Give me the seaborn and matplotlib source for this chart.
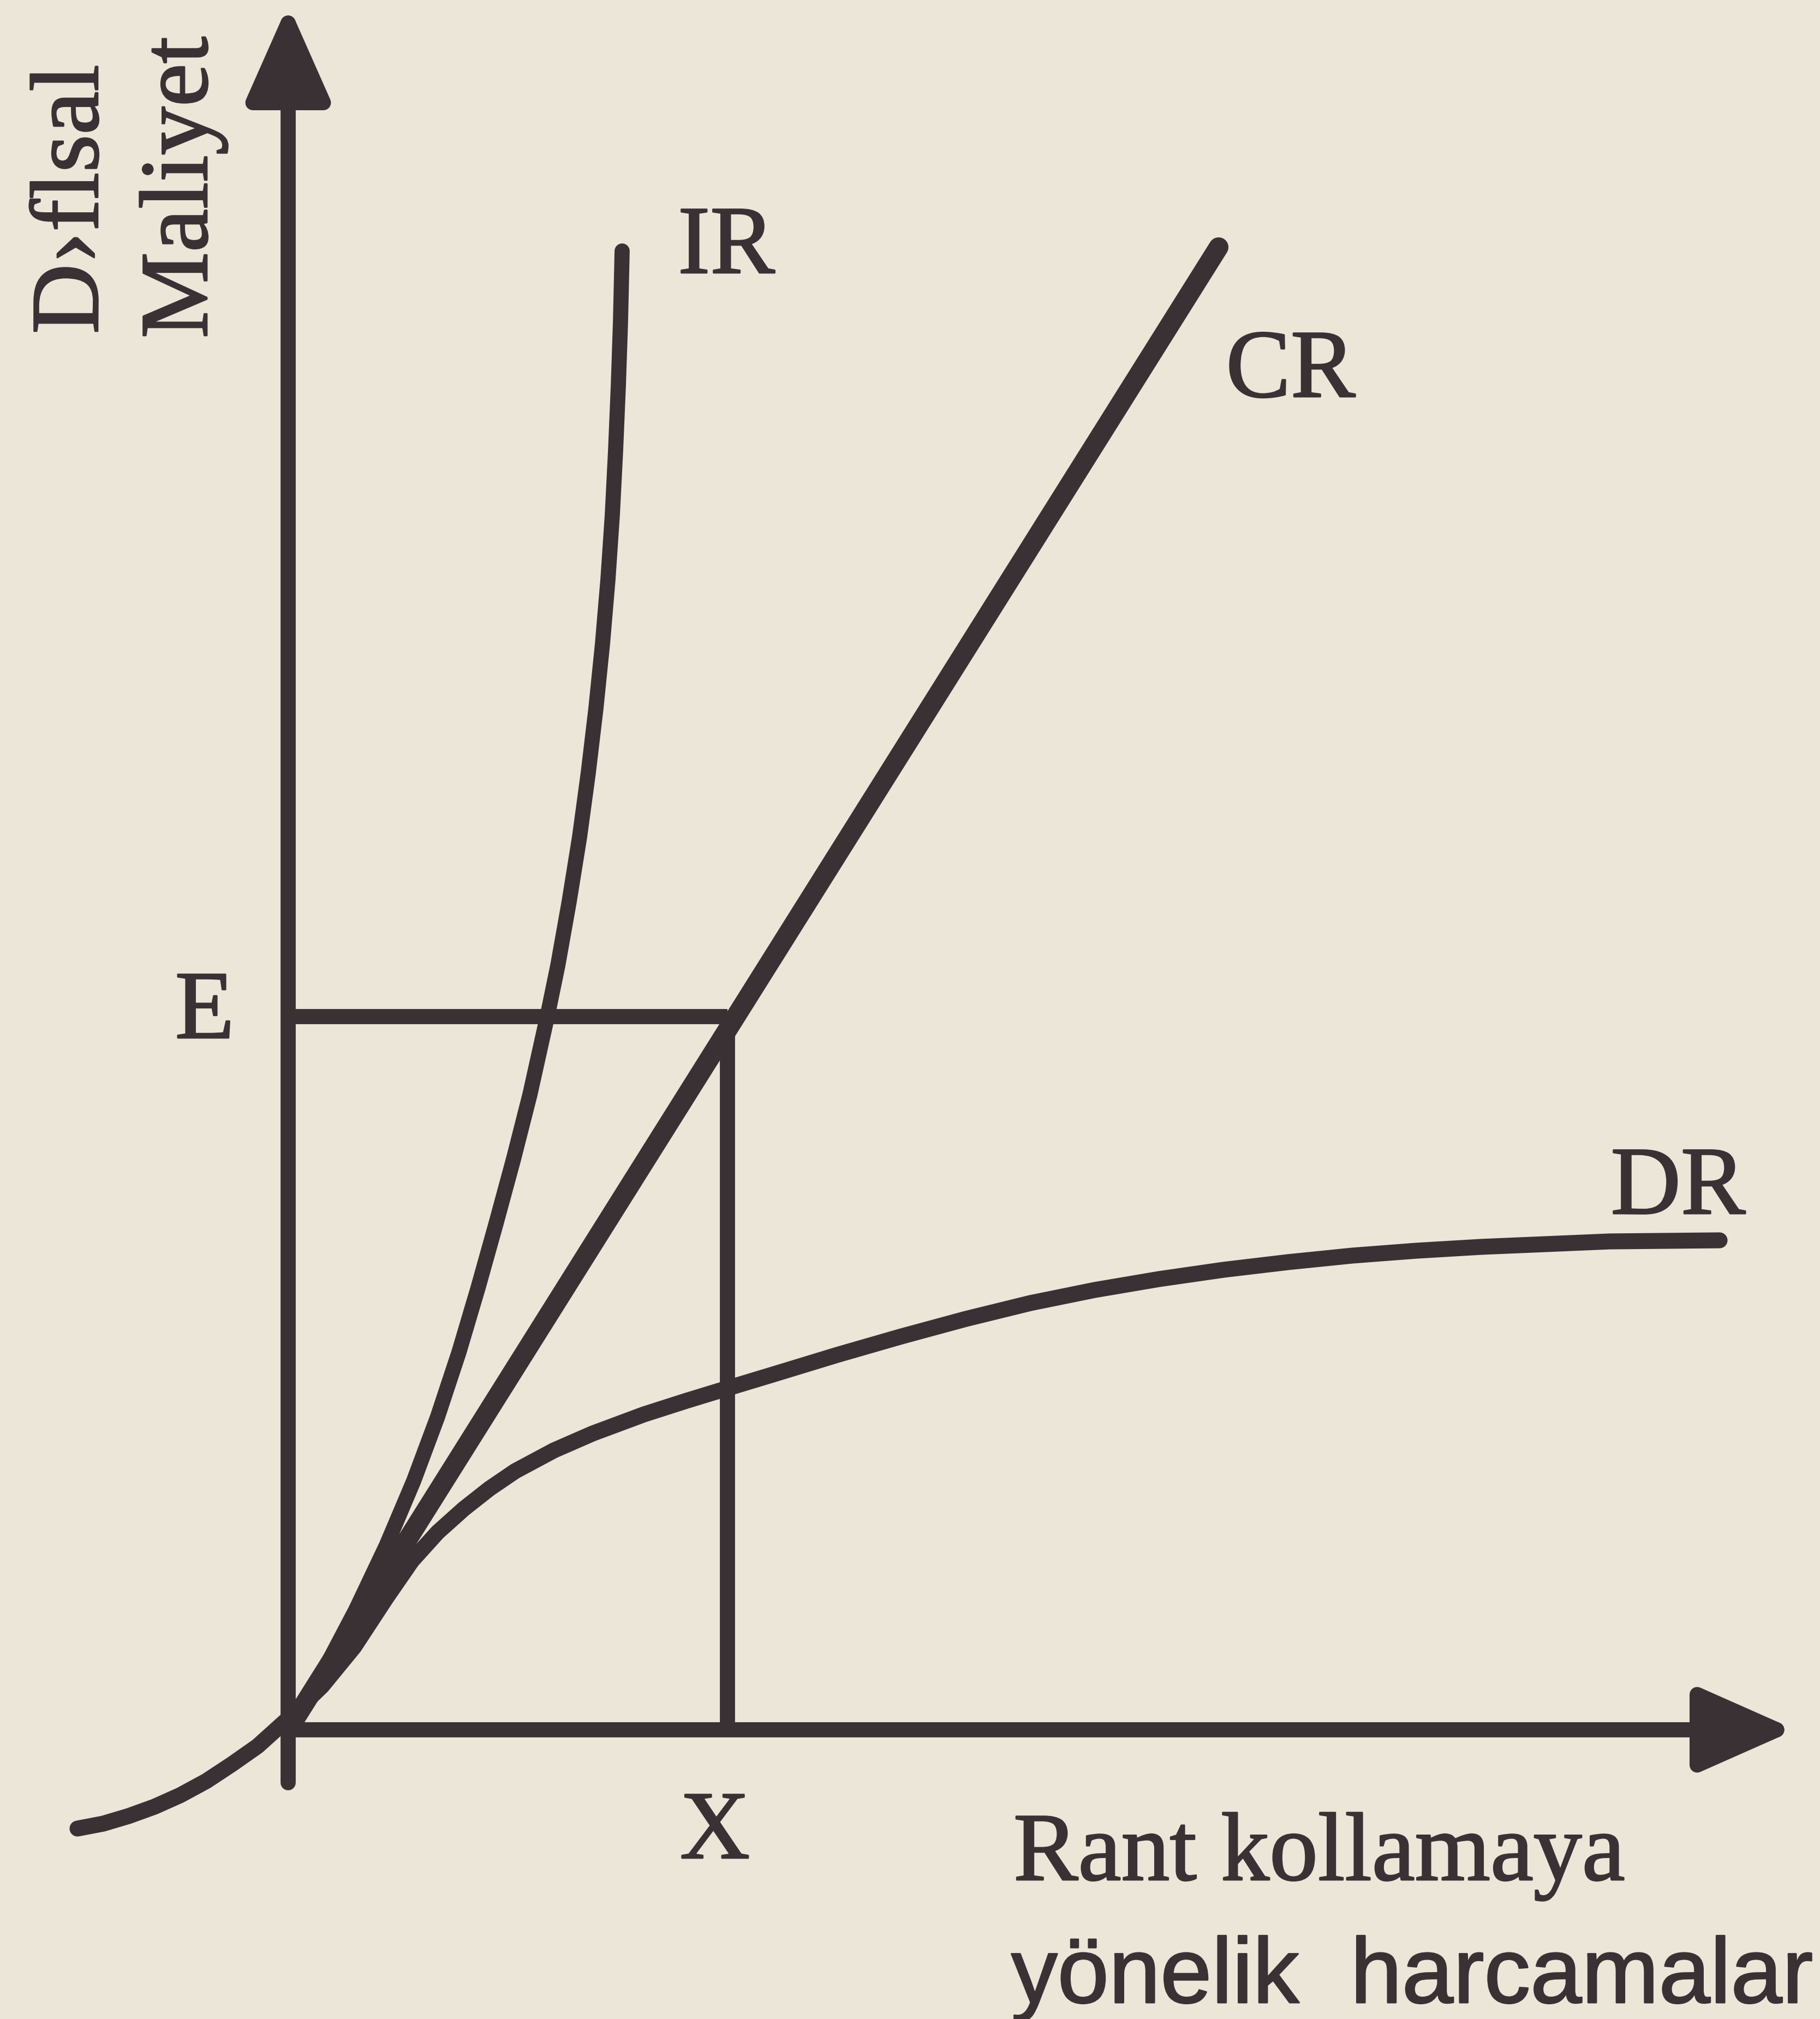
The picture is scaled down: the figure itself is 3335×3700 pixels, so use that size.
import matplotlib
matplotlib.use('Agg')
import matplotlib.pyplot as plt
import matplotlib.patheffects as pe
import seaborn as sns

# Curve points (origin = where the axes meet, 1 unit ~ 100 px)
ir_x = [0.00, 0.62, 1.24, 1.80, 2.30, 2.74, 3.13, 3.48, 3.81, 4.13, 4.43, 4.75, 4.94, 5.15,
        5.34, 5.50, 5.64, 5.76, 5.86, 5.94, 6.00, 6.05, 6.09, 6.12]
ir_y = [0.00, 1.02, 2.20, 3.38, 4.56, 5.74, 6.92, 8.10, 9.28, 10.46, 11.64, 13.08, 14.00, 15.18,
        16.36, 17.54, 18.72, 19.90, 21.08, 22.26, 23.44, 24.62, 25.80, 27.10]

cr_x = [0.00, 17.05]
cr_y = [0.00, 27.17]

dr_x = [-3.86, -3.39, -2.92, -2.45, -1.98, -1.50, -1.03, -0.56, 0.05, 0.62, 1.21, 1.80, 2.27,
        2.74, 3.22, 3.69, 4.16, 4.87, 5.58, 6.52, 7.30, 8.02, 8.88, 10.06, 11.24, 12.42, 13.60,
        14.78, 15.96, 17.14, 18.32, 19.50, 20.68, 21.86, 23.04, 24.22, 26.23]
dr_y = [-1.81, -1.72, -1.58, -1.41, -1.20, -0.94, -0.63, -0.30, 0.25, 0.80, 1.52, 2.42, 3.10,
        3.62, 4.05, 4.42, 4.74, 5.12, 5.43, 5.78, 6.03, 6.25, 6.51, 6.87, 7.21, 7.53, 7.82,
        8.06, 8.26, 8.43, 8.57, 8.69, 8.78, 8.85, 8.90, 8.95, 8.97]

e_level = 13.07
x_level = 8.05
x_axis_end = 27.62
y_axis_bottom = -0.97
y_axis_end = 31.62

curve_labels = ['IR', 'CR', 'DR']
curve_label_x = [8.03, 18.37, 25.47]
curve_label_y = [26.70, 24.43, 9.46]

PAPER = '#ece6d9'
INK = '#3a3135'

sns.set_theme(style='white')
plt.rcParams['font.family'] = ['Liberation Serif', 'DejaVu Serif']

fig = plt.figure(figsize=(33.35, 37), dpi=100, facecolor=PAPER)
ax = fig.add_axes([0, 0, 1, 1])
ax.set_facecolor(PAPER)
ax.set_xlim(-5.28, 28.07)
ax.set_ylim(-5.30, 31.70)
ax.axis('off')

# axes with arrow heads
arrow = dict(arrowstyle='-|>,head_length=0.35,head_width=0.155', mutation_scale=300,
             lw=20, color=INK, shrinkA=0, shrinkB=0)
ax.annotate('', xy=(x_axis_end, 0), xytext=(0, 0), arrowprops=arrow)
ax.annotate('', xy=(0, y_axis_end), xytext=(0, y_axis_bottom), arrowprops=arrow)

# guide lines for E and X
sns.lineplot(x=[0, x_level], y=[e_level, e_level], color=INK, lw=20, ax=ax,
             estimator=None, sort=False, legend=False, solid_capstyle='butt')
sns.lineplot(x=[x_level, x_level], y=[0, e_level], color=INK, lw=20, ax=ax,
             estimator=None, sort=False, legend=False, solid_capstyle='butt')

# the three curves
sns.lineplot(x=ir_x, y=ir_y, color=INK, lw=20, ax=ax, estimator=None, sort=False,
             legend=False, solid_capstyle='round', solid_joinstyle='round')
sns.lineplot(x=cr_x, y=cr_y, color=INK, lw=26, ax=ax, estimator=None, sort=False,
             legend=False, solid_capstyle='round')
sns.lineplot(x=dr_x, y=dr_y, color=INK, lw=21, ax=ax, estimator=None, sort=False,
             legend=False, solid_capstyle='round', solid_joinstyle='round')

# a thin stroke gives the glyphs the heavier look of the printed page
ink = [pe.withStroke(linewidth=2, foreground=INK)]

for lab, lx, ly in zip(curve_labels, curve_label_x, curve_label_y):
    ax.text(lx, ly, lab, fontsize=128, color=INK, ha='center', va='baseline',
            path_effects=ink)

ax.text(-1.53, 12.68, 'E', fontsize=128, color=INK, ha='center', va='baseline',
        path_effects=ink)
ax.text(7.82, -2.35, 'X', fontsize=128, color=INK, ha='center', va='baseline',
        path_effects=ink)

# axis titles
ax.text(-3.49, 25.58, 'D›flsal', fontsize=128, color=INK, rotation=90,
        rotation_mode='anchor', ha='left', va='baseline', path_effects=ink)
ax.text(-1.49, 25.50, 'Maliyet', fontsize=128, color=INK, rotation=90,
        rotation_mode='anchor', ha='left', va='baseline', path_effects=ink)
ax.text(13.29, -2.75, 'Rant kollamaya', fontsize=128, color=INK, ha='left', va='baseline',
        path_effects=ink)
ax.text(13.25, -5.00, 'yönelik  harcamalar', fontsize=122, color=INK, ha='left',
        va='baseline', family=['Liberation Sans', 'DejaVu Sans'], path_effects=ink)

fig.savefig('out.png', dpi=100, facecolor=PAPER)
